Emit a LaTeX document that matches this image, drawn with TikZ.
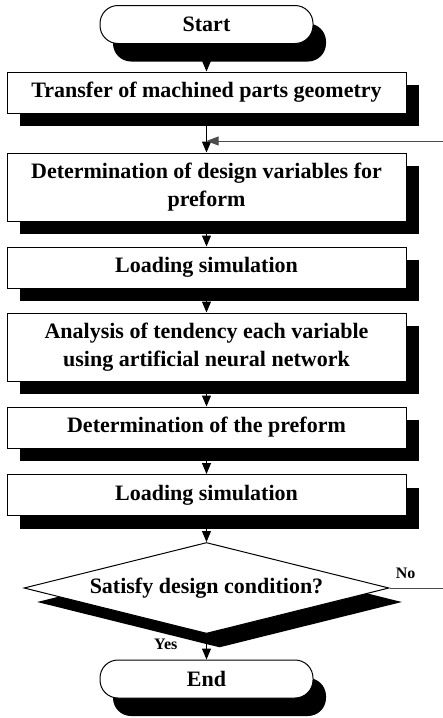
\documentclass[tikz,border=0pt]{standalone}
\usepackage{fontspec}
\setmainfont{Liberation Serif}
\usepackage{tikz}
\usetikzlibrary{shapes.geometric,shadows,arrows.meta}
\tikzset{box/.style={draw,line width=0.5pt,fill=white,align=center,inner sep=0pt,
    font=\bfseries\fontsize{11}{14}\selectfont},
  proc/.style={box,minimum width=199.5pt,minimum height=20.5pt,
    drop shadow={shadow xshift=6.5pt,shadow yshift=-6.5pt,fill=black,opacity=1}},
  term/.style={box,rounded corners=9pt,minimum width=106.5pt,minimum height=19pt,
    drop shadow={shadow xshift=6.5pt,shadow yshift=-9pt,fill=black,opacity=1}},
  test/.style={box,diamond,aspect=4,minimum width=182.5pt,minimum height=45.5pt,
    drop shadow={shadow xshift=6.5pt,shadow yshift=-7pt,fill=black,opacity=1}},
  flow/.style={line width=0.5pt,-{Triangle[width=4.5pt,length=5.5pt]}},
  back/.style={line width=0.4pt,black!70}}

\begin{document}
\begin{tikzpicture}[x=0.5pt,y=-0.5pt]
  \useasboundingbox (0,0) rectangle (443,718);
  \node[term] (A) at (206.5,24.5) {Start};
  \node[proc] (B) at (206.5,92.5) {Transfer of machined parts geometry};
  \node[proc,minimum height=34pt] (C) at (206.5,187) {Determination of design variables for\\preform};
  \node[proc] (D) at (206.5,267.5) {Loading simulation};
  \node[proc,minimum height=34pt] (E) at (206.5,347) {Analysis of tendency each variable\\using artificial neural network};
  \node[proc] (F) at (206.5,427.5) {Determination of the preform};
  \node[proc] (G) at (206.5,495) {Loading simulation};
  \node[test] (H) at (206.5,588) {Satisfy design condition?};
  \node[term] (I) at (206.5,679) {End};
  \coordinate (J) at (206.5,141);
  \coordinate (R1) at (443,588);
  \coordinate (R2) at (443,141);
  \draw[flow] (A) -- (B);
  \draw[flow] (B) -- (C);
  \draw[flow] (C) -- (D);
  \draw[flow] (D) -- (E);
  \draw[flow] (E) -- (F);
  \draw[flow] (F) -- (G);
  \draw[flow] (G) -- (H);
  \draw[flow] (H) -- node[pos=0.4,left=11pt,font=\bfseries\fontsize{8}{9}\selectfont] {Yes} (I);
  % feedback when the condition fails
  \draw[back] (H.east) -- node[pos=0.3,above=1pt,black,font=\bfseries\fontsize{8}{9}\selectfont] {No} (R1);
  \draw[back,-{Triangle[width=4.5pt,length=6pt]}] (R2) -- (J);
\end{tikzpicture}
\end{document}
